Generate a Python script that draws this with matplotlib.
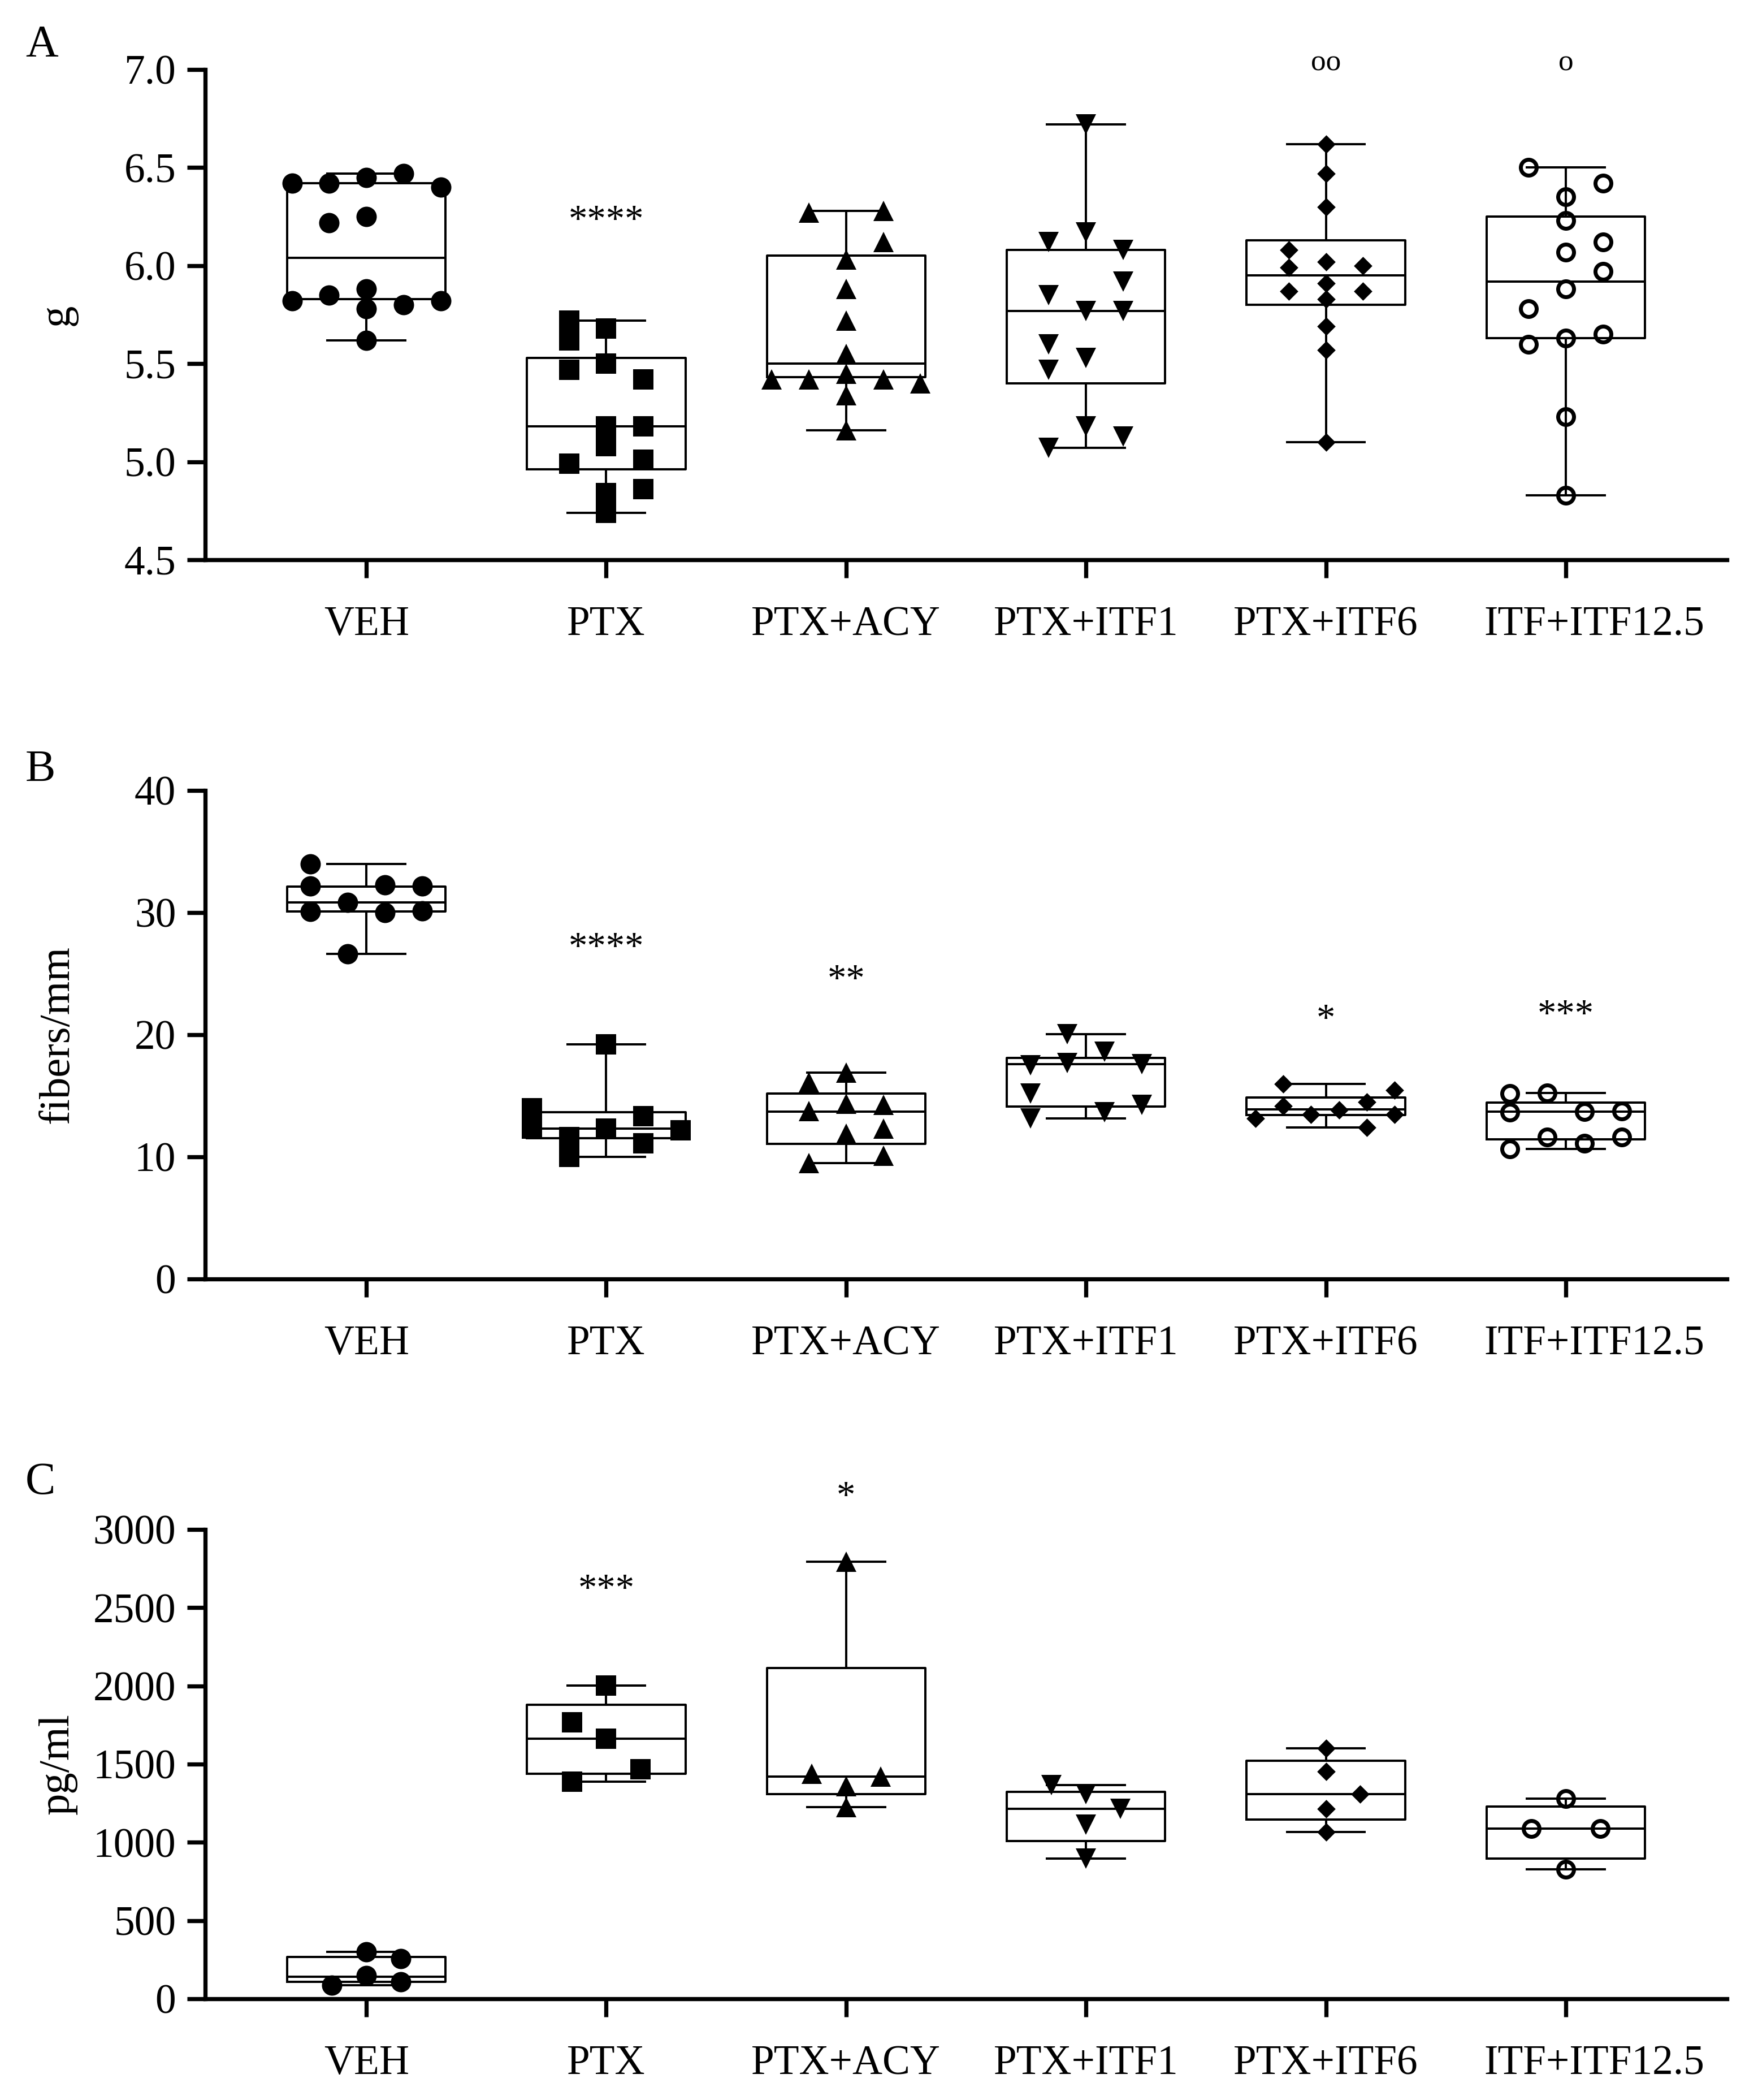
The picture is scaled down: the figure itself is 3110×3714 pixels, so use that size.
import numpy as np
import matplotlib
matplotlib.use("Agg")
import matplotlib.pyplot as plt
import matplotlib.transforms as mtransforms

plt.rcParams['font.family'] = ['Liberation Serif', 'DejaVu Serif']

groups = ["VEH", "PTX", "PTX+ACY", "PTX+ITF1", "PTX+ITF6", "ITF+ITF12.5"]

# panel A (g)
a_vals = [
    [6.42, 6.42, 6.45, 6.47, 6.40, 6.22, 6.25, 5.82, 5.85, 5.88, 5.82, 5.80, 5.78, 5.62],
    [5.72, 5.62, 5.47, 4.99, 5.68, 5.50, 5.18, 5.08, 4.84, 4.74, 5.42, 5.18, 5.01, 4.86],
    [6.27, 6.28, 6.12, 6.03, 5.88, 5.72, 5.55, 5.45, 5.42, 5.42, 5.42, 5.40, 5.34, 5.16],
    [6.72, 6.17, 6.12, 6.08, 5.92, 5.85, 5.77, 5.77, 5.60, 5.53, 5.47, 5.18, 5.13, 5.07],
    [6.62, 6.47, 6.30, 6.08, 6.02, 6.00, 5.99, 5.91, 5.87, 5.87, 5.83, 5.69, 5.57, 5.10],
    [6.50, 6.42, 6.35, 6.23, 6.12, 6.07, 5.97, 5.88, 5.78, 5.60, 5.63, 5.65, 5.23, 4.83],
]
a_slots = [
    [-2, -1, 0, 1, 2, -1, 0, -2, -1, 0, 2, 1, 0, 0],
    [-1, -1, -1, -1, 0, 0, 0, 0, 0, 0, 1, 1, 1, 1],
    [-1, 1, 1, 0, 0, 0, 0, 0, -2, -1, 1, 2, 0, 0],
    [0, 0, -1, 1, 1, -1, 0, 1, -1, 0, -1, 0, 1, -1],
    [0, 0, 0, -1, 0, 1, -1, 0, -1, 1, 0, 0, 0, 0],
    [-1, 1, 0, 0, 1, 0, 1, 0, -1, -1, 0, 1, 0, 0],
]
a_q1 = [5.83, 4.96, 5.43, 5.40, 5.80, 5.63]
a_med = [6.04, 5.18, 5.50, 5.77, 5.95, 5.92]
a_q3 = [6.42, 5.53, 6.05, 6.08, 6.13, 6.25]
a_lo = [5.62, 4.74, 5.16, 5.07, 5.10, 4.83]
a_hi = [6.47, 5.72, 6.28, 6.72, 6.62, 6.50]
a_marks = ["", "****", "", "", "oo", "o"]
a_mark_y = [None, 6.27, None, None, 7.03, 7.03]

# panel B (fibers/mm)
b_vals = [
    [33.98, 32.18, 32.28, 32.18, 30.85, 30.07, 30.00, 30.14, 26.61],
    [19.20, 14.00, 12.30, 11.62, 10.00, 12.33, 13.35, 11.11, 12.16],
    [16.90, 16.11, 14.35, 14.28, 13.74, 11.92, 12.31, 9.51, 10.08],
    [20.03, 18.59, 17.50, 17.67, 17.60, 15.19, 14.27, 13.15, 13.66],
    [15.97, 15.46, 14.51, 14.17, 13.86, 13.15, 13.49, 13.49, 12.40],
    [15.19, 15.22, 13.66, 13.69, 13.76, 11.62, 11.62, 11.11, 10.65],
]
b_slots = [
    [-1.5, -1.5, 0.5, 1.5, -0.5, -1.5, 0.5, 1.5, -0.5],
    [0, -2, -2, -1, -1, 0, 1, 1, 2],
    [0, -1, 0, 1, -1, 0, 1, -1, 1],
    [-0.5, 0.5, -1.5, -0.5, 1.5, -1.5, 1.5, -1.5, 0.5],
    [-1.15, 1.85, 1.1, -1.15, 0.35, -1.9, -0.4, 1.85, 1.1],
    [-1.5, -0.5, -1.5, 0.5, 1.5, -0.5, 1.5, 0.5, -1.5],
]
b_q1 = [30.07, 11.52, 11.08, 14.10, 13.42, 11.45]
b_med = [30.85, 12.33, 13.71, 17.57, 13.90, 13.69]
b_q3 = [32.11, 13.66, 15.20, 18.11, 14.85, 14.44]
b_lo = [26.61, 10.00, 9.51, 13.15, 12.40, 10.65]
b_hi = [33.98, 19.20, 16.90, 20.03, 15.97, 15.22]
b_marks = ["", "****", "**", "", "*", "***"]
b_mark_y = [None, 27.76, 25.14, None, 21.9, 22.26]

# panel C (pg/ml)
c_vals = [
    [301, 256, 149, 88, 109],
    [2003, 1768, 1661, 1467, 1389],
    [2795, 1440, 1421, 1360, 1225],
    [1366, 1307, 1216, 1115, 896],
    [1600, 1453, 1309, 1216, 1067],
    [1280, 1088, 1088, 829],
]
c_slots = [
    [0, 1, 0, -1, 1],
    [0, -1, 0, 1, -1],
    [0, -1, 1, 0, 0],
    [-1, 0, 1, 0, 0],
    [0, 0, 1, 0, 0],
    [0, -1, 1, 0],
]
c_q1 = [109, 1437, 1307, 1008, 1147, 896]
c_med = [141, 1664, 1421, 1213, 1309, 1088]
c_q3 = [267, 1880, 2115, 1323, 1523, 1229]
c_lo = [88, 1389, 1225, 896, 1067, 829]
c_hi = [301, 2003, 2795, 1366, 1600, 1280]
c_marks = ["", "***", "*", "", "", ""]
c_mark_y = [None, 2667, 3261, None, None, None]

W, H, DPI = 3110, 3714, 240
fig = plt.figure(figsize=(W / DPI, H / DPI), dpi=DPI)

diamond = [(0, 1), (1, 0), (0, -1), (-1, 0), (0, 1)]
marker_styles = [
    dict(marker='o', ms=10.8, mfc='black', mec='black', mew=0),
    dict(marker='s', ms=11.0, mfc='black', mec='black', mew=0),
    dict(marker='^', ms=11.0, mfc='black', mec='black', mew=0),
    dict(marker='v', ms=11.0, mfc='black', mec='black', mew=0),
    dict(marker=diamond, ms=9.8, mfc='black', mec='black', mew=0),
    dict(marker='o', ms=8.4, mfc='none', mec='black', mew=2.1),
]


def draw_panel(rect, vals, slots, q1, med, q3, lo, hi, marks, mark_y,
               ylim, yticks, fmt, ylabel, letter, letter_top, spacing):
    ax = fig.add_axes(rect)
    pos = np.arange(len(groups))

    stats = []
    for i in range(len(groups)):
        stats.append(dict(med=med[i], q1=q1[i], q3=q3[i],
                          whislo=lo[i], whishi=hi[i], fliers=[]))
    lw = 1.2
    ax.bxp(stats, positions=pos, widths=0.66, capwidths=0.325,
           showfliers=False,
           boxprops=dict(color='black', linewidth=lw),
           whiskerprops=dict(color='black', linewidth=lw),
           capprops=dict(color='black', linewidth=lw),
           medianprops=dict(color='black', linewidth=lw))

    for i in range(len(groups)):
        x = pos[i] + np.array(slots[i]) * spacing
        ax.plot(x, vals[i], linestyle='none', zorder=3, clip_on=False,
                **marker_styles[i])

    for i, txt in enumerate(marks):
        if not txt:
            continue
        small = txt.startswith('o')
        fs = 16 if small else 20
        off = -0.23 * fs if small else -0.48 * fs
        ax.annotate(txt, xy=(pos[i], mark_y[i]), xytext=(0, off),
                    textcoords='offset points', ha='center', va='baseline',
                    fontsize=fs, annotation_clip=False)

    ax.set_xlim(-0.672, len(groups) - 1 + 0.672)
    ax.set_ylim(*ylim)
    ax.set_yticks(yticks)
    ax.set_yticklabels([fmt.format(t) for t in yticks])
    ax.set_xticks(pos)
    ax.set_xticklabels(groups)

    for s in ['top', 'right']:
        ax.spines[s].set_visible(False)
    for s in ['left', 'bottom']:
        ax.spines[s].set_linewidth(2.2)
    ax.tick_params(axis='both', direction='out', length=9.5, width=2.2)
    ax.tick_params(axis='x', labelsize=22, pad=15)
    ax.tick_params(axis='y', labelsize=22, pad=6)

    # last category label sits a little right of its tick in the original
    last = ax.get_xticklabels()[-1]
    last.set_transform(last.get_transform() +
                       mtransforms.ScaledTranslation(50 / DPI, 0, fig.dpi_scale_trans))

    ax.set_ylabel(ylabel, fontsize=23, va='center')
    ax.yaxis.set_label_coords(102 / W, rect[1] + rect[3] / 2,
                              transform=fig.transFigure)

    fig.text(45 / W, 1 - letter_top / H, letter, fontsize=24,
             ha='left', va='top')
    return ax


left = 363 / W
width = (3055 - 363) / W


def rect_from(top_px, bottom_px):
    return [left, 1 - bottom_px / H, width, (bottom_px - top_px) / H]


draw_panel(rect_from(123, 990), a_vals, a_slots, a_q1, a_med, a_q3, a_lo, a_hi,
           a_marks, a_mark_y, (4.5, 7.0), [4.5, 5.0, 5.5, 6.0, 6.5, 7.0],
           "{:.1f}", "g", "A", 44, 0.155)

draw_panel(rect_from(1398, 2262), b_vals, b_slots, b_q1, b_med, b_q3, b_lo, b_hi,
           b_marks, b_mark_y, (0, 40), [0, 10, 20, 30, 40],
           "{:.0f}", "fibers/mm", "B", 1326, 0.155)

draw_panel(rect_from(2705, 3535), c_vals, c_slots, c_q1, c_med, c_q3, c_lo, c_hi,
           c_marks, c_mark_y, (0, 3000), [0, 500, 1000, 1500, 2000, 2500, 3000],
           "{:.0f}", "pg/ml", "C", 2586, 0.143)

fig.savefig("out.png", dpi=DPI)
